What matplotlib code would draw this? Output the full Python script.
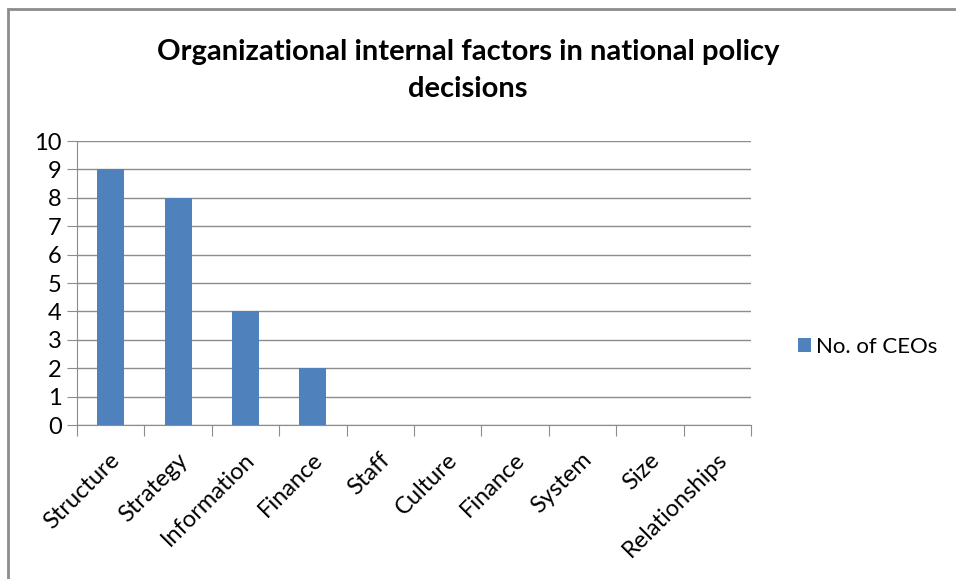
import matplotlib.pyplot as plt
from matplotlib.patches import Rectangle

categories = ['Structure', 'Strategy', 'Information', 'Finance', 'Staff',
              'Culture', 'Finance', 'System', 'Size', 'Relationships']
ceos = [9, 8, 4, 2, 0, 0, 0, 0, 0, 0]

plt.rcParams['font.family'] = ['Lato', 'DejaVu Sans']

fig = plt.figure(figsize=(9.56, 5.79), dpi=100)
ax = fig.add_axes([77 / 956, 1 - 425 / 579, 674 / 956, 284 / 579])

x = list(range(len(categories)))
ax.bar(x, ceos, width=0.4, color='#4F81BD', zorder=3, label='No. of CEOs')

ax.set_xlim(-0.5, len(categories) - 0.5)
ax.set_ylim(0, 10)
ax.set_yticks(range(0, 11))
ax.yaxis.grid(True, color='#8c8c8c', linewidth=1.0, zorder=0)
ax.tick_params(axis='y', length=7, color='#8c8c8c', labelsize=17, pad=4)

ax.set_xticks([i - 0.5 for i in range(len(categories) + 1)], minor=False)
ax.set_xticklabels([])
ax.tick_params(axis='x', length=8, color='#8c8c8c', direction='out')
for i, name in enumerate(categories):
    ax.text(i - 0.02, -0.85, name, rotation=45, ha='right', va='top',
            rotation_mode='anchor', fontsize=17, transform=ax.transData)

for side in ['top', 'right']:
    ax.spines[side].set_visible(False)
for side in ['left', 'bottom']:
    ax.spines[side].set_color('#8c8c8c')

fig.text(0.5 - 10 / 956, 1 - 52 / 579, 'Organizational internal factors in national policy',
         ha='center', va='center', fontsize=21, fontweight='bold')
fig.text(0.5 - 10 / 956, 1 - 89 / 579, 'decisions',
         ha='center', va='center', fontsize=21, fontweight='bold')

fig.legend(loc='center left', bbox_to_anchor=(778 / 956, 1 - 347 / 579),
           frameon=False, fontsize=16, handlelength=0.6, handleheight=0.6,
           handletextpad=0.2)

# outer chart frame
fig.patches.append(Rectangle((8 / 956, -0.1), 1.2, 1 - 9 / 579 + 0.1,
                             transform=fig.transFigure, fill=False,
                             edgecolor='#8c8c8c', linewidth=2))

fig.savefig('out.png', dpi=100)
